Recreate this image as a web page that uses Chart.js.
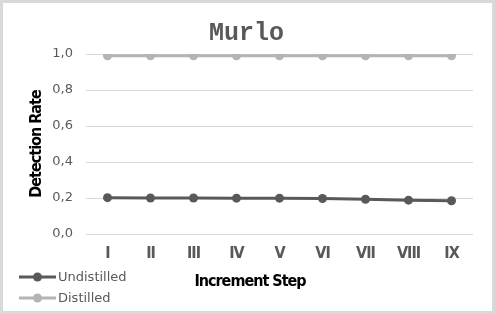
<!DOCTYPE html>
<html>
<head>
<meta charset="utf-8">
<script src="https://cdn.jsdelivr.net/npm/chart.js@4"></script>
<style>
  body { margin: 0; background: #fff; }
</style>
</head>
<body>
<canvas id="myChart" width="495" height="314"></canvas>
<script>
var steps = ['I', 'II', 'III', 'IV', 'V', 'VI', 'VII', 'VIII', 'IX'];
var undistilled = [0.202, 0.200, 0.200, 0.199, 0.199, 0.197, 0.193, 0.188, 0.185];
var distilled = [0.99, 0.99, 0.99, 0.99, 0.99, 0.99, 0.99, 0.99, 0.99];
var yTicks = [0, 0.2, 0.4, 0.6, 0.8, 1.0];
var xTitle = 'Increment Step';
var yTitle = 'Detection Rate';

var boldFont = 'bold 16px "DejaVu Sans Condensed"';

// white background + light grey frame
var frame = {
  id: 'frame',
  beforeDraw: function (chart) {
    var c = chart.ctx;
    c.save();
    c.fillStyle = '#fff';
    c.fillRect(0, 0, chart.width, chart.height);
    c.strokeStyle = '#d9d9d9';
    c.lineWidth = 3;
    c.strokeRect(1.5, 1.5, chart.width - 3, chart.height - 3);
    c.restore();
  },
  // x tick labels are drawn after datasets (ticks z:1) - squeeze them a bit
  afterDatasetsDraw: function (chart) {
    chart.ctx.letterSpacing = '-1px';
  },
  afterDraw: function (chart) {
    chart.ctx.letterSpacing = '0px';
  }
};

// axis titles, drawn by hand so they can be tightened like the original
var axisTitles = {
  id: 'axisTitles',
  afterDraw: function (chart) {
    var c = chart.ctx;
    var a = chart.chartArea;
    c.save();
    c.letterSpacing = '-1px';
    c.font = boldFont;
    c.fillStyle = '#000';
    c.textAlign = 'center';
    c.textBaseline = 'middle';
    c.fillText(xTitle, 250, 282);
    c.translate(37, (a.top + a.bottom) / 2);
    c.rotate(-Math.PI / 2);
    c.fillText(yTitle, 0, 0);
    c.restore();
  }
};

// legend stacked at bottom left
var sideLegend = {
  id: 'sideLegend',
  afterDraw: function (chart) {
    var c = chart.ctx;
    var rows = [277, 298];
    chart.data.datasets.forEach(function (ds, i) {
      var y = rows[i];
      c.save();
      c.strokeStyle = ds.borderColor;
      c.lineWidth = 3;
      c.beginPath();
      c.moveTo(19, y);
      c.lineTo(56, y);
      c.stroke();
      c.fillStyle = ds.borderColor;
      c.beginPath();
      c.arc(37.5, y, 4.5, 0, Math.PI * 2);
      c.fill();
      c.fillStyle = '#595959';
      c.font = '13px "DejaVu Sans"';
      c.textBaseline = 'middle';
      c.fillText(ds.label, 58, y + 1);
      c.restore();
    });
  }
};

var ctx = document.getElementById('myChart').getContext('2d');
var myChart = new Chart(ctx, {
  type: 'line',
  data: {
    labels: steps,
    datasets: [{
      label: 'Undistilled',
      data: undistilled,
      borderColor: '#595959',
      backgroundColor: '#595959',
      borderWidth: 3,
      pointRadius: 4.5,
      pointBorderWidth: 0,
      tension: 0
    }, {
      label: 'Distilled',
      data: distilled,
      borderColor: '#b4b4b4',
      backgroundColor: '#b4b4b4',
      borderWidth: 3,
      pointRadius: 4.5,
      pointBorderWidth: 0,
      tension: 0
    }]
  },
  options: {
    responsive: false,
    animation: false,
    devicePixelRatio: 1,
    layout: { padding: { left: 20, right: 22, top: 0, bottom: 20 } },
    plugins: {
      legend: { display: false },
      tooltip: { enabled: false },
      title: {
        display: true,
        text: 'Murlo',
        color: '#595959',
        font: { family: '"Liberation Mono"', size: 25, weight: 'bold' },
        padding: { top: 19, bottom: 5 }
      }
    },
    scales: {
      x: {
        offset: true,
        grid: { display: false, drawTicks: false },
        border: { display: false },
        ticks: {
          z: 1,
          color: '#595959',
          padding: 10,
          maxRotation: 0,
          autoSkip: false,
          font: { family: '"DejaVu Sans Condensed"', size: 16, weight: 'bold' }
        },
        afterFit: function (s) { s.height = 60; }
      },
      y: {
        min: 0,
        max: 1,
        afterBuildTicks: function (s) { s.ticks = yTicks.map(function (v) { return { value: v }; }); },
        grid: { color: '#d9d9d9', drawTicks: false },
        border: { display: false },
        ticks: {
          color: '#595959',
          padding: 13,
          font: { family: '"DejaVu Sans"', size: 13 },
          callback: function (v) { return v.toFixed(1).replace('.', ','); }
        },
        afterFit: function (s) { s.width = 66; }
      }
    }
  },
  plugins: [frame, axisTitles, sideLegend]
});
</script>
</body>
</html>
